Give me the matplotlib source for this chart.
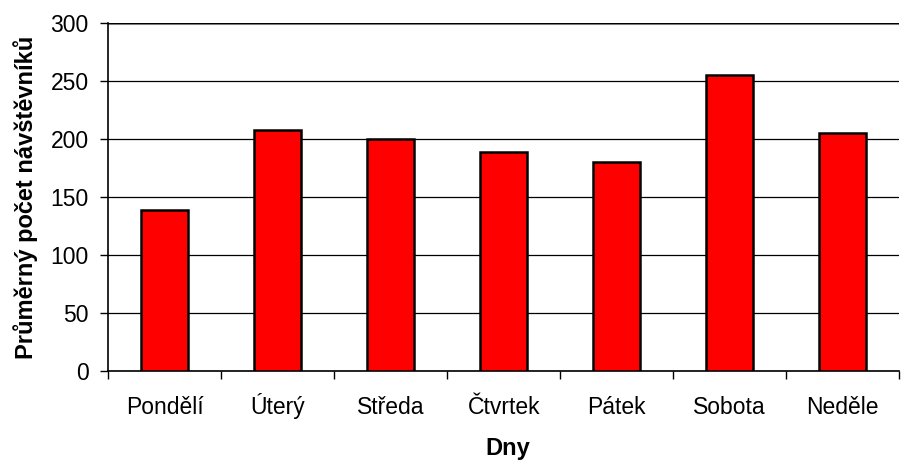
import numpy as np
import matplotlib.pyplot as plt

plt.rcParams['font.family'] = ['Liberation Sans', 'DejaVu Sans']

days = ["Pondělí", "Úterý", "Středa", "Čtvrtek", "Pátek", "Sobota", "Neděle"]
visitors = [139, 208, 200, 189, 180, 255, 205]
y_ticks = [0, 50, 100, 150, 200, 250, 300]

fig = plt.figure(figsize=(9.01, 4.61), dpi=100)
ax = fig.add_axes([0.12, 0.195, 0.878, 0.755])

x = np.arange(len(days))
ax.bar(x, visitors, width=0.42, color="#ff0000", edgecolor="black", linewidth=1.8, zorder=3)

ax.set_xlim(-0.5, len(days) - 0.5)
ax.set_ylim(0, 300)
ax.set_yticks(y_ticks)
ax.set_yticklabels([str(v) for v in y_ticks], fontsize=16.5)
ax.yaxis.grid(True, color="black", linewidth=0.9, zorder=0)
ax.axhline(300, color="#8c8c8c", linewidth=2.2, zorder=1)

# category ticks between bars, labels centred under bars
ax.set_xticks(np.arange(-0.5, len(days), 1.0))
ax.set_xticklabels([])
ax.set_xticks(x, minor=True)
ax.set_xticklabels(days, minor=True, fontsize=16.5, va="baseline")
ax.tick_params(axis="x", which="major", length=6, width=1, direction="out")
ax.tick_params(axis="x", which="minor", length=0, pad=31)
ax.tick_params(axis="y", length=6, width=1, direction="out", pad=8)

for s in ["top", "right"]:
    ax.spines[s].set_visible(False)
ax.spines["left"].set_linewidth(1.2)
ax.spines["bottom"].set_linewidth(1.2)

ax.set_xlabel("Dny", fontsize=17, fontweight="bold")
ax.xaxis.label.set_va("baseline")
ax.xaxis.set_label_coords(0.505, -0.241)
ax.set_ylabel("Průměrný počet návštěvníků", fontsize=17, fontweight="bold", labelpad=9)

plt.savefig("out.png", dpi=100)
